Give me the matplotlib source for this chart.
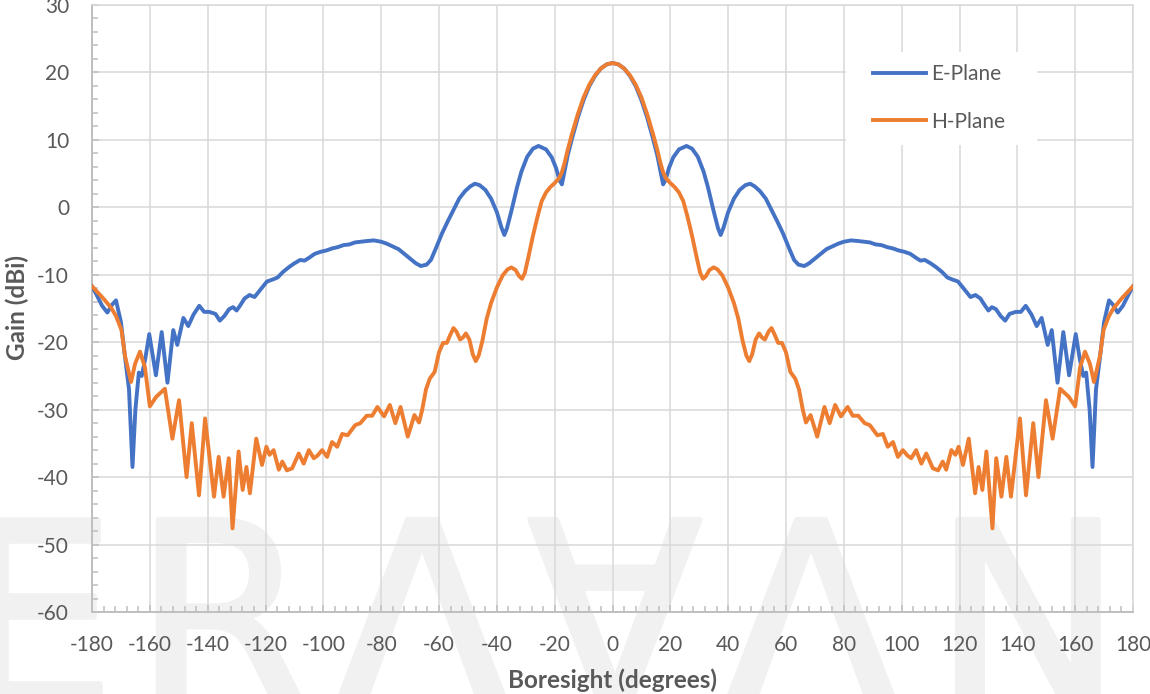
import matplotlib
matplotlib.use("Agg")
import matplotlib.pyplot as plt
import matplotlib.patheffects as pe
from matplotlib.patches import Rectangle
from matplotlib.ticker import MultipleLocator

# Half patterns (0..180 deg). Both cuts are symmetric about boresight.
E_ANGLE = [0, 2, 4, 6, 8, 10, 12, 14, 15.5, 16.6, 17.5, 18.3, 19.5, 21, 23, 25.6, 27.5,
           29.5, 31.5, 33, 35, 36.5, 37.4, 38.4, 40, 42, 44, 46, 47.6, 49.2, 51, 53, 55,
           57, 59, 61, 62.8, 64.3, 66.3, 68, 70, 72, 74, 76, 78, 80, 82.5, 85, 87, 89, 91,
           93, 95, 97, 99, 101, 103, 105, 106.5, 108, 110, 112, 114, 115.8, 117.5, 119.5,
           121, 122.5, 123.8, 125.5, 127.2, 128.7, 130, 131.2, 132.6, 134.2, 135.8, 137.3,
           139.5, 141.2, 142.9, 144.9, 146.7, 148.4, 150.5, 151.9, 153.9, 155.9, 157.9,
           160.2, 161.6, 162.8, 163.8, 165, 166, 167.2, 168.5, 170, 171.7, 173, 174.7,
           176.5, 178.5, 180]
E_GAIN = [21.4, 21.2, 20.6, 19.5, 18.0, 15.9, 13.3, 10.2, 7.7, 5.3, 3.4, 4.0, 5.8, 7.4,
          8.6, 9.1, 8.7, 7.5, 5.3, 3.0, -0.6, -3.1, -4.1, -3.0, -0.7, 1.3, 2.6, 3.3, 3.5,
          3.1, 2.4, 1.3, -0.4, -2.1, -3.9, -6.0, -7.8, -8.5, -8.7, -8.3, -7.6, -6.9, -6.2,
          -5.8, -5.4, -5.1, -4.9, -5.0, -5.1, -5.2, -5.5, -5.6, -5.9, -6.1, -6.4, -6.6,
          -6.9, -7.5, -7.9, -7.8, -8.3, -8.9, -9.6, -10.4, -10.7, -11.0, -11.8, -12.6,
          -13.3, -13.0, -13.5, -14.5, -15.3, -14.8, -15.1, -16.1, -16.8, -15.8, -15.5,
          -15.5, -14.6, -15.9, -17.6, -16.4, -20.4, -18.2, -26.0, -18.5, -24.9, -18.8,
          -22.5, -25.0, -24.5, -30.0, -38.5, -27.0, -22.5, -17.0, -13.8, -14.4, -15.6,
          -14.6, -12.9, -11.7]

H_ANGLE = [0, 2, 4, 6, 8, 10, 12, 14, 15.5, 16.5, 17.5, 18.5, 20, 21.5, 23, 24.5, 26,
           27.5, 29, 30.3, 31.3, 32.3, 33.5, 35, 36.3, 38, 40, 42, 43.5, 45, 46.3, 47.3,
           48.3, 49.5, 50.7, 51.7, 52.7, 54, 55, 56.2, 57.3, 58.6, 60, 61.5, 63.2, 64.5,
           65.8, 66.9, 68.5, 70.8, 73.3, 75.1, 77, 79, 81.3, 83.1, 85, 87.2, 89, 91.6, 93.5,
           95.2, 97, 98.7, 100.4, 102, 103.3, 105, 106.8, 108.5, 110.8, 112.6, 114.2, 115.4,
           117.2, 118.6, 119.7, 121.2, 123.2, 125.4, 126.6, 127.9, 129.3, 131.4, 132.7,
           134.5, 136.2, 137.8, 140.9, 143, 145.5, 147.3, 149.9, 152.2, 154.8, 157.8, 160,
           161.7, 163.4, 165.1, 166.5, 168.6, 169.8, 171.6, 173.2, 176.1, 180]
H_GAIN = [21.4, 21.2, 20.6, 19.6, 18.2, 16.3, 13.8, 10.9, 8.5, 6.7, 5.2, 4.3, 3.6, 3.0,
          2.2, 0.9, -1.5, -4.2, -7.2, -9.7, -10.6, -10.2, -9.3, -8.9, -9.2, -10.1, -11.9,
          -14.2, -16.5, -19.8, -22.0, -22.8, -21.8, -19.6, -18.7, -19.3, -19.6, -18.4,
          -17.9, -19.0, -20.1, -20.1, -21.5, -24.4, -25.4, -27.0, -30.0, -31.9, -30.8,
          -34.0, -29.6, -32.0, -29.3, -31.0, -29.6, -30.9, -30.9, -32.0, -32.3, -33.8,
          -33.6, -35.5, -34.8, -37.0, -36.0, -36.8, -37.2, -36.0, -38.0, -36.5, -38.7,
          -39.0, -37.7, -38.9, -36.0, -36.7, -35.5, -38.2, -34.3, -42.4, -38.5, -41.9,
          -36.2, -47.6, -37.2, -42.9, -37.0, -42.9, -31.3, -42.7, -32.0, -40.0, -28.6,
          -34.3, -26.9, -28.1, -29.5, -23.7, -21.4, -23.2, -25.9, -22.0, -18.2, -16.2,
          -15.0, -13.5, -11.7]

SERIES = ["E-Plane", "H-Plane"]
COLORS = ["#4472C4", "#ED7D31"]
X_TICKS = list(range(-180, 181, 20))
Y_TICKS = list(range(-60, 31, 10))
WATERMARK = [("E", 36), ("R", 222), ("Λ", 422), ("∀", 615), ("Λ", 811), ("N", 1028)]

TXT = "#595959"
W, H = 1150, 694


def full_cut(angles, gains):
    a = [-v for v in reversed(angles[1:])] + list(angles)
    g = list(reversed(gains[1:])) + list(gains)
    return a, g


plt.rcParams["font.family"] = ["Lato", "DejaVu Sans"]
plt.rcParams["axes.unicode_minus"] = False

fig = plt.figure(figsize=(W / 100, H / 100), dpi=100)
ax = fig.add_axes([92 / W, 82 / H, 1041 / W, 607 / H])
ax.set_facecolor("none")

# faint logo watermark behind the plot
for ch, xp in WATERMARK:
    fig.text(xp / W, -11 / H, ch, fontsize=183, color="#f1f1f1", ha="center",
             va="baseline", family="DejaVu Sans", zorder=-5,
             path_effects=[pe.withStroke(linewidth=4, foreground="#f1f1f1")])

lines = []
for name, col, (ang, gain) in zip(SERIES, COLORS,
                                  [(E_ANGLE, E_GAIN), (H_ANGLE, H_GAIN)]):
    a, g = full_cut(ang, gain)
    ln, = ax.plot(a, g, color=col, lw=2.8, solid_joinstyle="round", label=name, zorder=3)
    lines.append(ln)

ax.set_xlim(-180, 180)
ax.set_ylim(-60, 30)
ax.set_xticks(X_TICKS)
ax.set_yticks(Y_TICKS)
ax.xaxis.set_minor_locator(MultipleLocator(4))
ax.yaxis.set_minor_locator(MultipleLocator(2))
ax.set_axisbelow(True)
ax.grid(True, which="major", color="#d9d9d9", lw=1.1)

for s in ("left", "bottom"):
    ax.spines[s].set_color("#bfbfbf")
    ax.spines[s].set_linewidth(1.4)
for s in ("top", "right"):
    ax.spines[s].set_color("#d9d9d9")
    ax.spines[s].set_linewidth(1.1)

ax.tick_params(which="both", direction="in", colors="#bfbfbf", labelcolor=TXT,
               labelsize=15)
ax.tick_params(which="major", length=5, width=1.1)
ax.tick_params(which="minor", length=4, width=1.1)
ax.tick_params(axis="x", pad=16.5)
ax.tick_params(axis="y", pad=16.5)
ax.tick_params(top=False, right=False, which="both")

fig.text(612 / W, 6 / H, "Boresight (degrees)", ha="center", va="baseline",
         fontsize=17.5, fontweight="bold", color=TXT)
fig.text(25 / W, 1 - 308 / H, "Gain (dBi)", ha="center", va="baseline",
         rotation=90, rotation_mode="anchor", fontsize=17.5, fontweight="bold", color=TXT)

# white legend panel over the grid
ax.add_patch(Rectangle((0.7243, 0.7694), 0.1835, 0.1532, transform=ax.transAxes,
                       facecolor="white", edgecolor="none", zorder=1.5))
ax.legend(handles=lines, loc="center left", bbox_to_anchor=(873 / W, 1 - 98 / H),
          bbox_transform=fig.transFigure, frameon=False, fontsize=15, labelcolor=TXT,
          borderpad=0, borderaxespad=0, handlelength=2.55, handletextpad=0.25,
          labelspacing=1.3)

fig.savefig("out.png", dpi=100, facecolor="white")
